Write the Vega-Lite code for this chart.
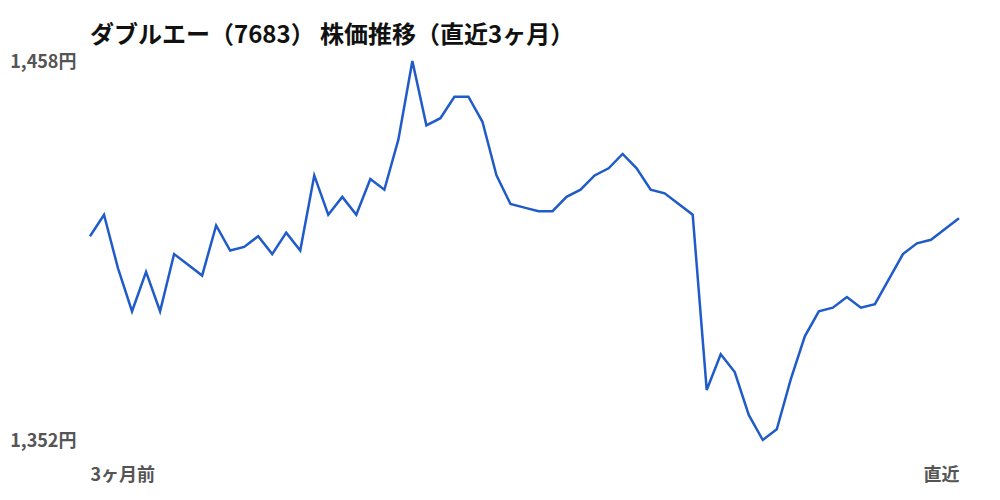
{
  "$schema": "https://vega.github.io/schema/vega-lite/v6.json",
  "width": 869,
  "height": 379,
  "autosize": "none",
  "padding": {"left": 90, "top": 61, "right": 41, "bottom": 60},
  "background": "#ffffff",
  "config": {
    "view": {"stroke": null},
    "font": "Noto Sans CJK JP"
  },
  "title": {
    "text": "ダブルエー（7683） 株価推移（直近3ヶ月）",
    "anchor": "start",
    "frame": "group",
    "fontSize": 24,
    "fontWeight": "bold",
    "color": "#111111",
    "font": "Noto Sans CJK JP",
    "offset": 5
  },
  "data": {
    "values": [
      {"day": 0, "price": 1409}, {"day": 1, "price": 1415}, {"day": 2, "price": 1400},
      {"day": 3, "price": 1388}, {"day": 4, "price": 1399}, {"day": 5, "price": 1388},
      {"day": 6, "price": 1404}, {"day": 7, "price": 1401}, {"day": 8, "price": 1398},
      {"day": 9, "price": 1412}, {"day": 10, "price": 1405}, {"day": 11, "price": 1406},
      {"day": 12, "price": 1409}, {"day": 13, "price": 1404}, {"day": 14, "price": 1410},
      {"day": 15, "price": 1405}, {"day": 16, "price": 1426}, {"day": 17, "price": 1415},
      {"day": 18, "price": 1420}, {"day": 19, "price": 1415}, {"day": 20, "price": 1425},
      {"day": 21, "price": 1422}, {"day": 22, "price": 1436}, {"day": 23, "price": 1458},
      {"day": 24, "price": 1440}, {"day": 25, "price": 1442}, {"day": 26, "price": 1448},
      {"day": 27, "price": 1448}, {"day": 28, "price": 1441}, {"day": 29, "price": 1426},
      {"day": 30, "price": 1418}, {"day": 31, "price": 1417}, {"day": 32, "price": 1416},
      {"day": 33, "price": 1416}, {"day": 34, "price": 1420}, {"day": 35, "price": 1422},
      {"day": 36, "price": 1426}, {"day": 37, "price": 1428}, {"day": 38, "price": 1432},
      {"day": 39, "price": 1428}, {"day": 40, "price": 1422}, {"day": 41, "price": 1421},
      {"day": 42, "price": 1418}, {"day": 43, "price": 1415}, {"day": 44, "price": 1366},
      {"day": 45, "price": 1376}, {"day": 46, "price": 1371}, {"day": 47, "price": 1359},
      {"day": 48, "price": 1352}, {"day": 49, "price": 1355}, {"day": 50, "price": 1369},
      {"day": 51, "price": 1381}, {"day": 52, "price": 1388}, {"day": 53, "price": 1389},
      {"day": 54, "price": 1392}, {"day": 55, "price": 1389}, {"day": 56, "price": 1390},
      {"day": 57, "price": 1397}, {"day": 58, "price": 1404}, {"day": 59, "price": 1407},
      {"day": 60, "price": 1408}, {"day": 61, "price": 1411}, {"day": 62, "price": 1414}
    ]
  },
  "mark": {"type": "line", "color": "#1f5bc9", "strokeWidth": 2.5},
  "encoding": {
    "x": {
      "field": "day",
      "type": "quantitative",
      "scale": {"domain": [0, 62], "nice": false, "zero": false},
      "axis": {
        "title": null,
        "values": [0, 62],
        "labelExpr": "datum.value == 0 ? '3ヶ月前' : '直近'",
        "labelFlush": true,
        "labelFontSize": 18,
        "labelFontWeight": "bold",
        "labelColor": "#555555",
        "labelPadding": 26,
        "ticks": false,
        "domain": false,
        "grid": false
      }
    },
    "y": {
      "field": "price",
      "type": "quantitative",
      "scale": {"domain": [1352, 1458], "nice": false, "zero": false},
      "axis": {
        "title": null,
        "values": [1352, 1458],
        "labelExpr": "format(datum.value, ',') + '円'",
        "labelFontSize": 18,
        "labelFontWeight": "bold",
        "labelColor": "#555555",
        "labelPadding": 14,
        "labelOffset": 1,
        "ticks": false,
        "domain": false,
        "grid": false
      }
    }
  }
}
